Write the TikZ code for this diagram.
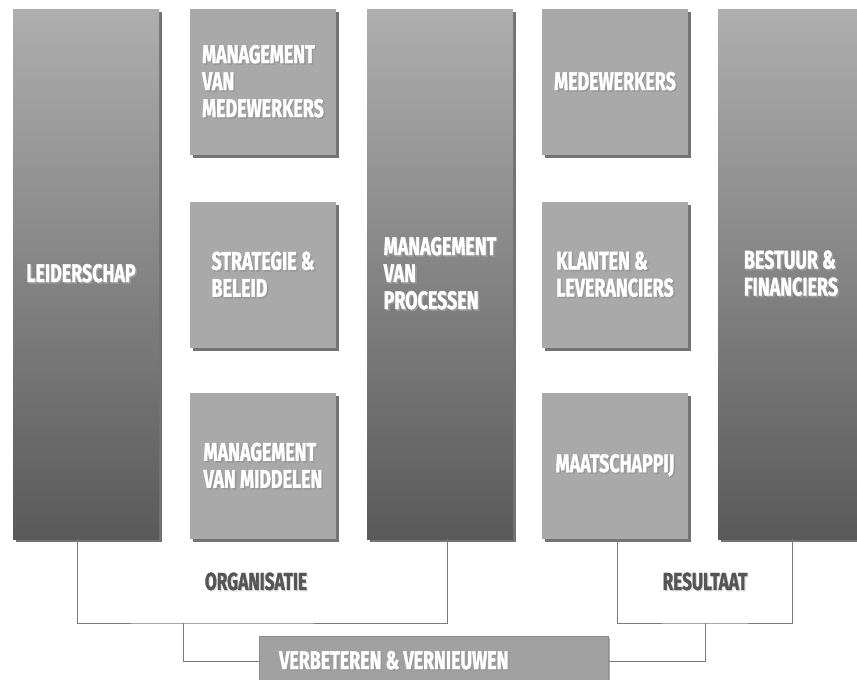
\documentclass[tikz,border=0pt]{standalone}
\usepackage{fontspec}
\newfontfamily\condfont[FakeStretch=0.7, BoldFeatures={FakeBold=1.3}]{Fira Sans}
\usetikzlibrary{shadows}
\newcommand{\shl}[1]{\makebox[0pt][l]{\kern1.6pt\raisebox{-1.6pt}{\textcolor{black!40}{#1}}}#1}
\newcommand{\shd}[1]{\makebox[0pt][l]{\kern1.2pt\raisebox{-1.2pt}{\textcolor{black!12}{#1}}}#1}
\definecolor{boxgray}{HTML}{A9A9A9}
\definecolor{coltop}{HTML}{AEAEAE}
\definecolor{colbot}{HTML}{5A5A5A}
\definecolor{linegray}{HTML}{7A7A7A}
\definecolor{labgray}{HTML}{555555}
\tikzset{
  boxtext/.style={text=white, font=\condfont\bfseries\fontsize{25.5}{27}\selectfont, align=left, inner sep=0pt},
  colbox/.style={boxtext, top color=coltop, bottom color=colbot, minimum width=146pt, minimum height=530pt,
     drop shadow={shadow xshift=3pt, shadow yshift=-3pt, opacity=0.55, fill=black}},
  smallbox/.style={boxtext, fill=boxgray, minimum width=146pt, minimum height=146pt,
     drop shadow={shadow xshift=3pt, shadow yshift=-3pt, opacity=0.55, fill=black}},
  bottombox/.style={fill=boxgray!95!black, draw=black!45, line width=0.8pt, minimum width=349pt, minimum height=60pt, anchor=north west,
     drop shadow={shadow xshift=2pt, shadow yshift=-2pt, opacity=0.3, fill=black}},
  grouplabel/.style={text=labgray, font=\condfont\bfseries\fontsize{24.5}{26}\selectfont, inner sep=0pt},
  conn/.style={draw=linegray, line width=0.9pt}
}
\begin{document}
\begin{tikzpicture}[x=1pt,y=-1pt]
\useasboundingbox (0,0) rectangle (857,680);
\fill[white] (0,0) rectangle (857,680);
% columns
\node[colbox] (lead) at (86,274) {\hspace*{-10pt}\shl{LEIDERSCHAP}};
\node[colbox] (proc) at (440,274) {\shl{MANAGEMENT}\\\shl{VAN}\\\shl{PROCESSEN}};
\node[colbox] (best) at (791,274) {\shl{BESTUUR \&}\\\shl{FINANCIERS}};
% small boxes, column 2
\node[smallbox] (mmed) at (263,82) {\shl{MANAGEMENT}\\\shl{VAN}\\\shl{MEDEWERKERS}};
\node[smallbox] (strat) at (263,275) {\shl{STRATEGIE \&}\\\shl{BELEID}};
\node[smallbox] (mmid) at (263,466) {\shl{MANAGEMENT}\\\shl{VAN MIDDELEN}};
% small boxes, column 4
\node[smallbox] (med) at (615,82) {\shl{MEDEWERKERS}};
\node[smallbox] (klant) at (615,275) {\shl{KLANTEN \&}\\\shl{LEVERANCIERS}};
\node[smallbox] (maat) at (615,466) {\shl{MAATSCHAPPIJ}};
% bottom box
\node[bottombox] (verb) at (259,636) {};
\node[boxtext, anchor=west] (verbt) at (279,661) {\shl{VERBETEREN \& VERNIEUWEN}};
% group labels
\node[grouplabel] (org) at (256,582) {\shd{ORGANISATIE}};
\node[grouplabel] (res) at (705,582) {\shd{RESULTAAT}};
% connectors
\coordinate (ojoin) at (183,623);
\coordinate (rjoin) at (705,623);
\draw[conn] (lead.south -| 77,0) |- (ojoin) -| (proc.south -| 447,0);
\draw[conn] (ojoin) |- (verb.west |- 0,661);
\draw[conn] (maat.south -| 617,0) |- (rjoin) -| (best.south -| 792,0);
\draw[conn] (rjoin) |- (verb.east |- 0,661);
\end{tikzpicture}
\end{document}
